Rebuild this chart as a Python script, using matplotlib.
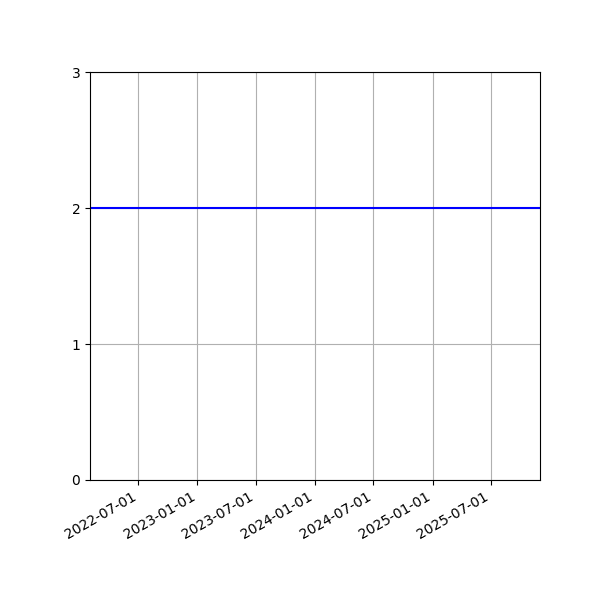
import pandas as pd
import matplotlib
matplotlib.use("Agg")
import matplotlib.pyplot as plt
import matplotlib.dates as mdates

# serie mensual constante
fechas = pd.date_range("2022-02-01", "2025-12-01", freq="MS")
valores = [2] * len(fechas)
yticks = [0, 1, 2, 3]

fig, ax = plt.subplots(figsize=(6, 6), dpi=100)
ax.plot(fechas, valores, color="blue", linewidth=1.5)

ax.set_xlim(fechas[0], fechas[-1])
ax.set_ylim(0, 3)
ax.set_yticks(yticks)
ax.xaxis.set_major_locator(mdates.MonthLocator(bymonth=[1, 7]))
ax.xaxis.set_major_formatter(mdates.DateFormatter("%Y-%m-%d"))
ax.grid(True)

fig.autofmt_xdate()
fig.subplots_adjust(left=0.15, right=0.9, top=0.88, bottom=0.2)
fig.savefig("out.png", dpi=100)
